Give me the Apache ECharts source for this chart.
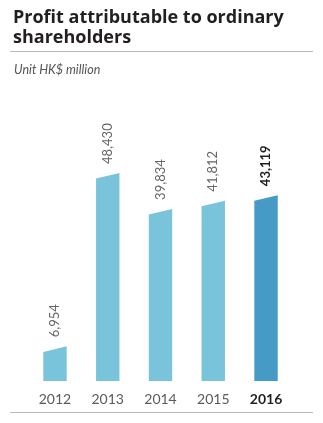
<!DOCTYPE html>
<html><head><meta charset="utf-8">
<style>html,body{margin:0;padding:0;background:#fff}#c{width:323px;height:423px}</style>
<script src="https://cdn.jsdelivr.net/npm/echarts@6/dist/echarts.min.js"></script>
</head><body><div id="c"></div>
<script>
var categories = ['2012', '2013', '2014', '2015', '2016'];
var values = [6954, 48430, 39834, 41812, 43119];
var valueLabels = ['6,954', '48,430', '39,834', '41,812', '43,119'];
var highlightIndex = 4;

var LIGHT = '#79c4db', DARK = '#459bc5';
var chart = echarts.init(document.getElementById('c'), null, {renderer: 'canvas'});
var FONT = 'Lato';
chart.setOption({
  animation: false,
  title: [{
    text: 'Profit attributable to ordinary\nshareholders',
    left: 8, top: 3,
    textStyle: {fontFamily: 'Open Sans', fontWeight: 'bold', fontSize: 18, lineHeight: 20, color: '#231f20'}
  }, {
    text: 'Unit HK$ million',
    left: 9, top: 58,
    textStyle: {fontFamily: FONT, fontStyle: 'italic', fontWeight: 'normal', fontSize: 12.5, color: '#555'}
  }],
  graphic: [
    {type: 'line', shape: {x1: 10, y1: 51.5, x2: 313, y2: 51.5}, style: {stroke: '#bbb', lineWidth: 1}},
    {type: 'line', shape: {x1: 10, y1: 412.5, x2: 313, y2: 412.5}, style: {stroke: '#bbb', lineWidth: 1}}
  ],
  grid: {left: 28.6, right: 30.6, top: 130.2, bottom: 42},
  xAxis: {
    type: 'category', data: categories,
    axisLine: {show: false}, axisTick: {show: false},
    axisLabel: {
      interval: 0, margin: 11, fontFamily: FONT, fontSize: 14, color: '#5a5a5a',
      formatter: function (v, i) { return i === highlightIndex ? '{b|' + v + '}' : v; },
      rich: {b: {fontFamily: FONT, fontSize: 14, fontWeight: 'bold', color: '#231f20'}}
    }
  },
  yAxis: {type: 'value', min: 0, max: 60000, show: false, splitLine: {show: false}},
  series: [{
    type: 'custom',
    data: values.map(function (v, i) { return [i, v]; }),
    renderItem: function (params, api) {
      var i = api.value(0), v = api.value(1);
      var top = api.coord([i, v]);
      var base = api.coord([i, 0]);
      var w = 23.4, slant = 5.6;
      var xl = top[0] - w / 2, xr = top[0] + w / 2;
      var hi = i === highlightIndex;
      return {
        type: 'group',
        children: [{
          type: 'polygon',
          shape: {points: [[xl, base[1]], [xl, top[1]], [xr, top[1] - slant], [xr, base[1]]]},
          style: {fill: hi ? DARK : LIGHT}
        }, {
          type: 'text',
          x: top[0], y: top[1] - slant - 9,
          rotation: Math.PI / 2,
          style: {
            text: valueLabels[i], align: 'left', verticalAlign: 'middle',
            fontFamily: FONT, fontSize: 13, fontWeight: hi ? 'bold' : 'normal',
            fill: hi ? '#231f20' : '#666'
          }
        }]
      };
    }
  }]
});
</script></body></html>
